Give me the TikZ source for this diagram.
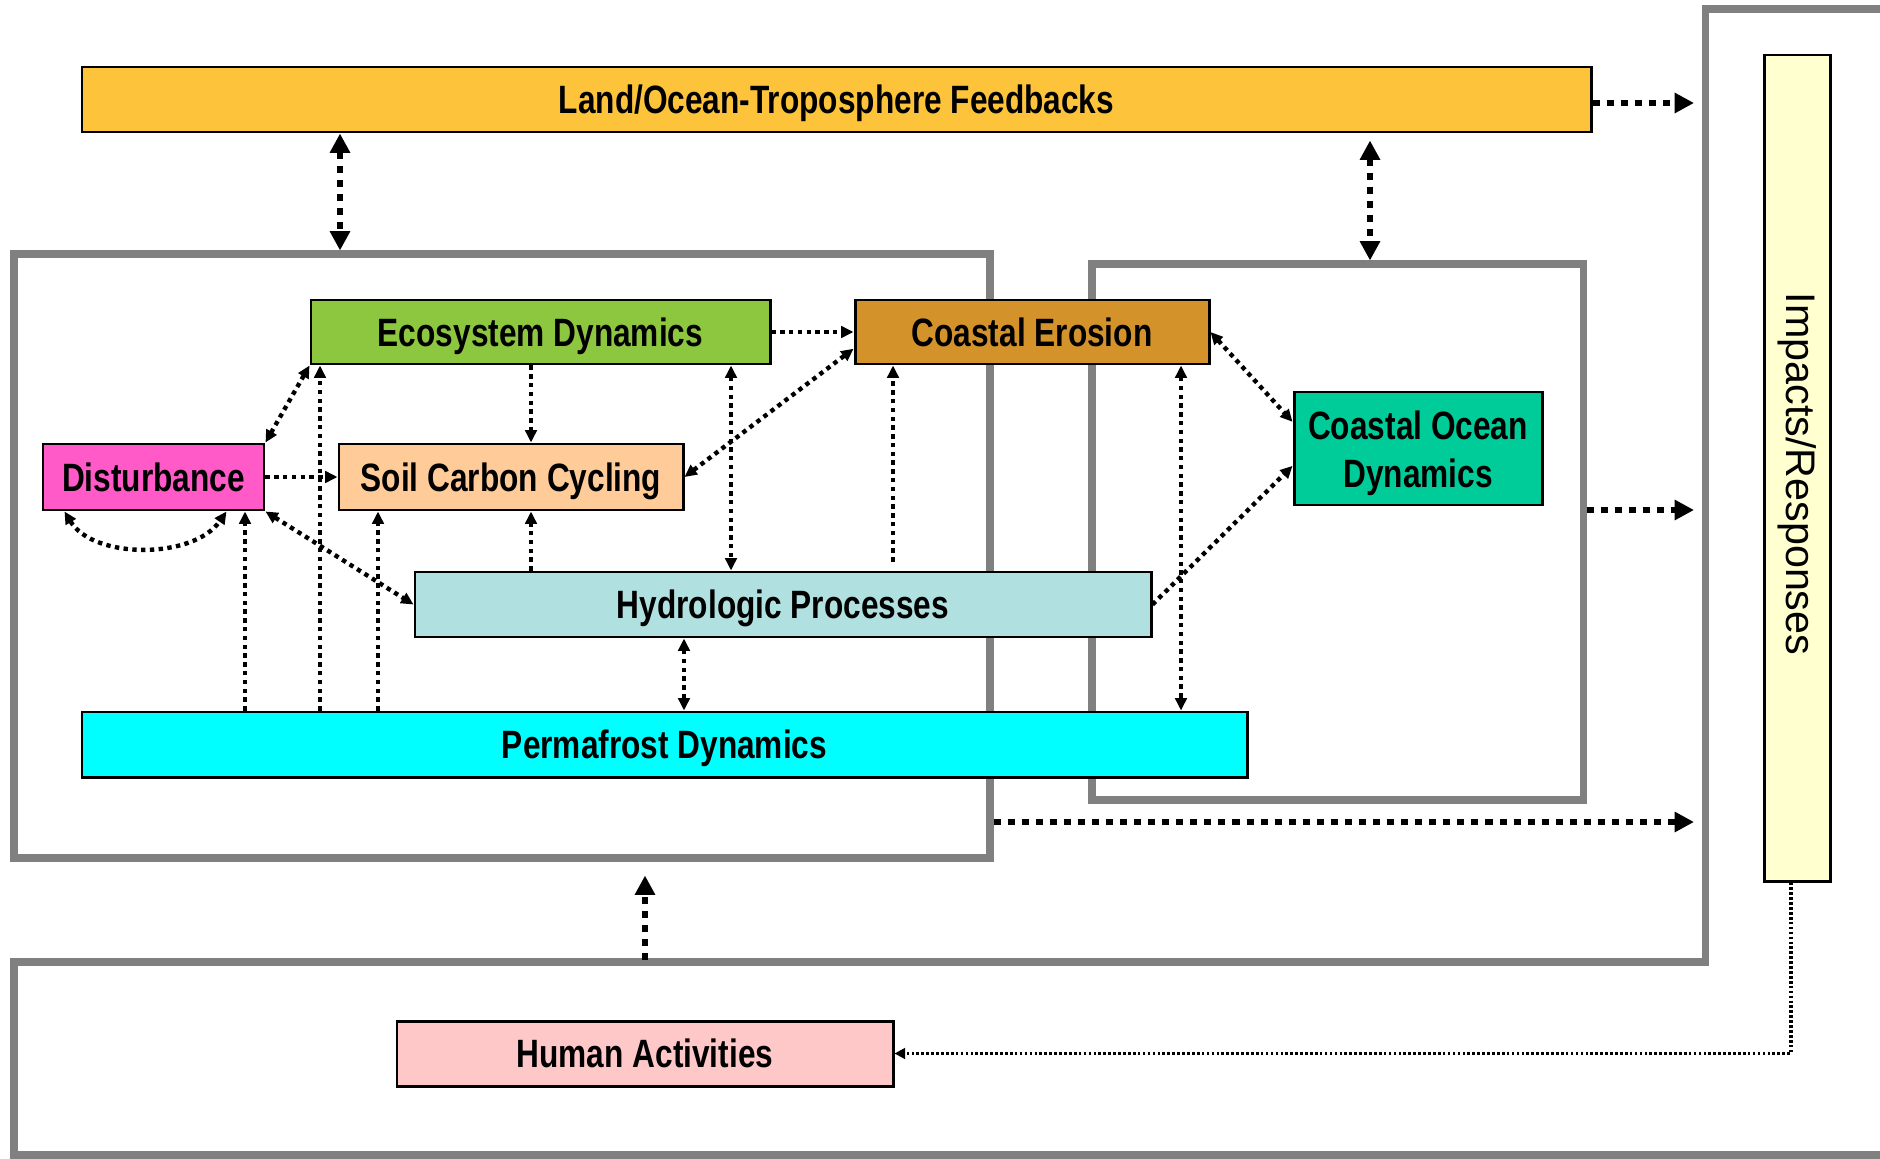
\documentclass[tikz,border=0pt]{standalone}
\usepackage{fontspec}
\setmainfont{Liberation Sans}[FakeStretch=0.8]
\newfontfamily\irfont{Liberation Sans}
\usetikzlibrary{arrows.meta,calc}
\definecolor{framegray}{RGB}{128,128,128}
\definecolor{cLOT}{RGB}{253,196,59}
\definecolor{cED}{RGB}{141,198,63}
\definecolor{cCE}{RGB}{212,146,42}
\definecolor{cDI}{RGB}{255,90,200}
\definecolor{cSC}{RGB}{255,204,153}
\definecolor{cCOD}{RGB}{0,204,153}
\definecolor{cHP}{RGB}{176,224,224}
\definecolor{cPD}{RGB}{0,255,255}
\definecolor{cHA}{RGB}{255,200,200}
\definecolor{cIR}{RGB}{255,255,208}
\begin{document}
\begin{tikzpicture}[x=0.02cm,y=-0.02cm,
  sz/.style 2 args={minimum width=#1*0.02cm,minimum height=#2*0.02cm},
  box/.style={draw=black,line width=1.7pt,inner sep=0pt,align=center,
    text height=20pt,text depth=4pt,
    font=\bfseries\fontsize{22.5}{27}\selectfont},
  frame/.style={draw=framegray,line width=4pt,inner sep=0pt},
  inner/.style={line width=2.5pt,dash pattern=on 2.5pt off 2.5pt},
  outer/.style={line width=3.6pt,dash pattern=on 4pt off 4pt},
  thinl/.style={line width=2pt,dash pattern=on 1.5pt off 1.3pt},
  ih/.style={-{Triangle[length=7pt,width=6.5pt]}},
  ihh/.style={{Triangle[length=7pt,width=6.5pt]}-{Triangle[length=7pt,width=6.5pt]}},
  oh/.style={-{Triangle[length=11pt,width=11pt]}},
  ohh/.style={{Triangle[length=11pt,width=11pt]}-{Triangle[length=11pt,width=11pt]}},
  th/.style={-{Triangle[length=6pt,width=6pt]}}
]
\useasboundingbox (0,0) rectangle (1880,1159);
% outer frame
\coordinate (of1) at (1880,9);
\coordinate (of2) at (1705,9);
\coordinate (of3) at (1705,962);
\coordinate (of4) at (14,962);
\coordinate (of5) at (14,1155);
\coordinate (of6) at (1880,1155);
\draw[draw=framegray,line width=4pt] (of1) -- (of2) -- (of3) -- (of4) -- (of5) -- (of6);
% gray frames
\node[frame,sz={976}{604}] (LF) at (502,556) {};
\node[frame,sz={491}{536}] (RF) at (1337.5,532) {};
% boxes
\node[box,fill=cLOT,sz={1509}{65}] (LOT) at (836.5,99.5) {Land/Ocean-Troposphere Feedbacks};
\node[box,fill=cIR,sz={66}{826},text height=,text depth=,font=\irfont\fontsize{23.5}{27}\selectfont] (IR) at (1797,468) {\rotatebox{-90}{\raisebox{-1pt}{\hspace*{6.8pt}Impacts/Responses}}};
\node[box,fill=cED,sz={459}{64}] (ED) at (540.5,332) {Ecosystem Dynamics};
\node[box,fill=cCE,sz={354}{64}] (CE) at (1032,332) {Coastal Erosion};
\node[box,fill=cDI,sz={221}{66}] (DI) at (153.5,477) {Disturbance};
\node[box,fill=cSC,sz={344}{66}] (SC) at (511,477) {Soil Carbon Cycling};
\node[box,fill=cCOD,sz={248}{113},text height=46pt,text depth=2pt] (COD) at (1418,448.5) {Coastal Ocean\\Dynamics};
\node[box,fill=cHP,sz={736}{65}] (HP) at (783,604.5) {Hydrologic Processes};
\node[box,fill=cPD,sz={1165}{65}] (PD) at (664.5,744.5) {Permafrost Dynamics};
\node[box,fill=cHA,sz={496}{65}] (HA) at (645,1053.5) {Human Activities};
% x positions
\coordinate (x340) at (340,0);
\coordinate (x1370) at (1370,0);
\coordinate (x1694) at (1694,0);
\coordinate (x531) at (531,0);
\coordinate (x245) at (245,0);
\coordinate (x320) at (320,0);
\coordinate (x378) at (378,0);
\coordinate (x731) at (731,0);
\coordinate (x893) at (893,0);
\coordinate (x1181) at (1181,0);
\coordinate (x684) at (684,0);
\coordinate (hf) at (645,960);
\coordinate (irc) at (1791,1055);
\coordinate (y822) at (0,822);
\coordinate (y510) at (0,510);
% outer arrows
\draw[outer,ohh] (LOT.south -| x340) -- (LF.north -| x340);
\draw[outer,ohh] ([yshift=-0.14cm]LOT.south -| x1370) -- (RF.north -| x1370);
\draw[outer,oh] ([yshift=-0.07cm]LOT.east) -- ([yshift=-0.07cm]LOT.east -| x1694);
\draw[outer,oh] (RF.east |- y510) -- (x1694 |- y510);
\draw[outer,oh] (LF.east |- y822) -- (x1694 |- y822);
\draw[outer,oh] (hf) -- ([yshift=-0.28cm]LF.south -| hf);
\draw[thinl,th] (IR.south -| irc) |- (HA.east);
% inner arrows
\draw[inner,ih] (ED.east) -- (CE.west);
\draw[inner,ih] (ED.south -| x531) -- (SC.north -| x531);
\draw[inner,ihh] (ED.south west) -- (DI.north east);
\draw[inner,ih] (DI.east) -- (SC.west);
\draw[inner,ihh] ([xshift=0.46cm]DI.south west) .. controls ([xshift=1.04cm,yshift=-0.96cm]DI.south west) and ([xshift=3.04cm,yshift=-0.96cm]DI.south west) .. ([xshift=3.7cm]DI.south west);
\draw[inner,ihh] (DI.south east) -- (HP.west);
\draw[inner,ih] (PD.north -| x245) -- (DI.south -| x245);
\draw[inner,ih] (PD.north -| x320) -- (ED.south -| x320);
\draw[inner,ih] (PD.north -| x378) -- (SC.south -| x378);
\draw[inner,ih] (HP.north -| x531) -- (SC.south -| x531);
\draw[inner,ihh] (ED.south -| x731) -- (HP.north -| x731);
\draw[inner,ihh] (SC.east) -- ($(CE.west)!0.5!(CE.south west)$);
\draw[inner,ih] ([yshift=0.18cm]HP.north -| x893) -- (CE.south -| x893);
\draw[inner,ihh] (CE.south -| x1181) -- (PD.north -| x1181);
\draw[inner,ihh] (CE.east) -- ($(COD.north west)!0.27!(COD.south west)$);
\draw[inner,ih] (HP.east) -- ($(COD.north west)!0.65!(COD.south west)$);
\draw[inner,ihh] (HP.south -| x684) -- (PD.north -| x684);
\end{tikzpicture}
\end{document}
